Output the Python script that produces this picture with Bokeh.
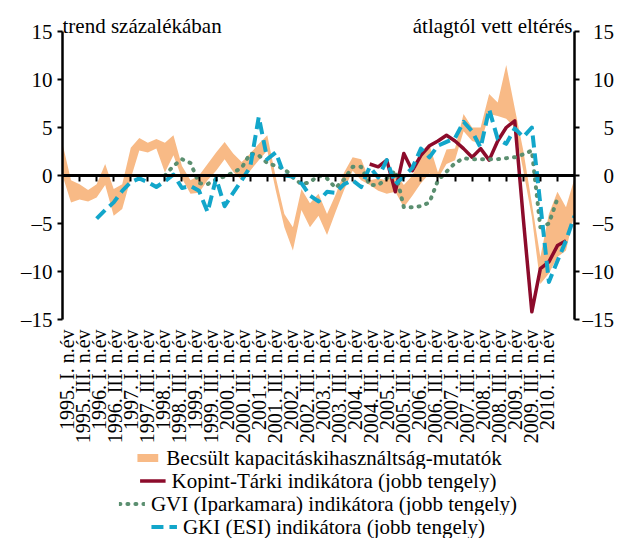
import math
import numpy as np
from bokeh.plotting import figure
from bokeh.layouts import column
from bokeh.models import Range1d, LinearAxis, FixedTicker, Legend, LegendItem, Label
from bokeh.embed import file_html
from bokeh.resources import INLINE

# ---- data (quarterly, 1995 Q1 .. 2010 Q1) ----
tick_labels = [
    "1995. I. n.év", "1995. III. n.év", "1996. I. n.év", "1996. III. n.év",
    "1997. I. n.év", "1997. III. n.év", "1998. I. n.év", "1998. III. n.év",
    "1999. I. n.év", "1999. III. n.év", "2000. I. n.év", "2000. III. n.év",
    "2001. I. n.év", "2001. III. n.év", "2002. I. n.év", "2002. III. n.év",
    "2003. I. n.év", "2003. III. n.év", "2004. I. n.év", "2004. III. n.év",
    "2005. I. n.év", "2005. III. n.év", "2006. I. n.év", "2006. III. n.év",
    "2007. I. n.év", "2007. III. n.év", "2008. I. n.év", "2008. III. n.év",
    "2009. I. n.év", "2009. III. n.év", "2010. I. n.év",
]

band_top = [3.3, -0.5, -0.9, -1.5, -0.9, 1.2, -1.4, -0.9, 2.9, 3.9,
            3.4, 3.8, 3.4, 4.2, 1.0, -0.5, 0.0, 1.2, 2.4, 3.5,
            2.3, 1.4, 2.3, 3.3, 4.2, -0.2, -4.0, -5.4, -1.4, -2.9,
            -1.9, -4.0, -2.0, 0.3, 1.9, 1.7, -0.5, -0.3, -0.5, 0.3,
            -1.0, 0.0, 2.0, 3.2, 0.3, 2.7, 2.8, 6.4, 5.0, 5.0,
            8.5, 7.6, 11.5, 7.0, 2.6, -2.9, -8.5, -4.0, -1.7, -3.3, -0.3]
band_bottom = [0.0, -2.8, -2.5, -2.7, -2.3, -1.0, -4.2, -3.5, -0.3, 2.6,
               2.4, 2.8, 0.3, 2.1, -0.3, -1.9, -1.8, -0.5, 0.5, 1.7,
               0.4, -0.5, 0.5, 1.6, 2.6, -1.6, -5.4, -7.8, -3.6, -5.4,
               -4.2, -6.2, -3.8, -1.5, 0.5, -0.5, -1.0, -1.6, -1.9, -1.7,
               -3.3, -2.1, -0.8, 0.2, -0.3, 1.2, 1.6, 4.6, 3.6, 3.3,
               6.4, 6.2, 5.9, 5.0, 0.5, -4.3, -11.3, -10.2, -8.5, -7.8, -4.0]

kopint_start = 36   # 2004 Q1
kopint = [1.2, 0.9, 1.6, -1.7, 2.3, 0.5, 2.1, 3.1, 3.6, 4.2,
          3.6, 2.8, 1.9, 2.8, 1.6, 3.6, 5.0, 5.7, -4.5, -14.2,
          -9.7, -9.0, -7.3, -6.8]

gvi_start = 12      # 1998 Q1
gvi = [0.0, 1.0, 1.7, 1.3, -0.8, -0.9, -0.4, -0.1, 0.3, 0.8,
       2.3, 2.1, 1.3, 1.0, 0.7, -0.2, -0.9, -0.7, 0.0, -0.3,
       -1.3, -0.4, 0.9, 0.9, -1.0, -1.0, -0.3, 0.5, -3.3, -3.3,
       -3.2, -2.8, -0.5, 0.4, 1.3, 1.8, 1.7, 1.7, 1.7, 1.7,
       1.8, 1.9, 2.2, 2.6, -5.4, -5.0, -2.4]

gki_start = 4       # 1996 Q1
gki = [-4.5, -3.6, -2.8, -1.6, -0.7, -0.3, -0.7, -1.2, -0.6, 0.1,
       -1.3, -1.1, -1.6, -3.8, -0.3, -3.2, -1.8, -0.5, 0.9, 6.1,
       1.7, 2.4, 0.0, -0.1, -0.8, -2.1, -2.7, -1.7, -1.8, -0.9,
       -0.5, -1.2, 0.9, -0.2, 1.6, -0.9, -0.1, 0.8, 2.8, 1.9,
       3.1, 3.5, 3.9, 5.6, 4.6, 2.9, 6.9, 3.8, 3.3, 4.9,
       4.0, 5.0, -3.0, -11.1, -8.9, -6.8, -4.2]

series_names = [
    "Becsült kapacitáskihasználtság-mutatók",
    "Kopint-Tárki indikátora (jobb tengely)",
    "GVI (Iparkamara) indikátora (jobb tengely)",
    "GKI (ESI) indikátora (jobb tengely)",
]
y_ticks = [-15, -10, -5, 0, 5, 10, 15]
left_title = "trend százalékában"
right_title = "átlagtól vett eltérés"

# ---- layout / styles ----
FONT = "Liberation Serif"
FS = "\u2007"
W = 617
BL, BR = 62, 42
PX = 9.6                    # pixels per unit on the value axes
TOP_PAD = 28                # room above the "15" tick for the captions (px)
Y0, Y1 = -15, 15
Y_TOP = Y1 + TOP_PAD / PX
FRAME_H = round((Y_TOP - Y0) * PX)
MB_TOP, MB_BOTTOM = 3, 127

BAND = dict(fill_color="#F8BA86", fill_alpha=1.0)
KOP = dict(line_color="#8C0B2B", line_width=3.5, line_join="round")
GVI = dict(line_color="#5B8F70", line_width=4, line_dash="1 7", line_cap="round",
           line_join="round")
GKI = dict(line_color="#12A6CA", line_width=4, line_dash="12 6", line_join="round")

x_band = np.arange(len(band_top))
x_kop = np.arange(kopint_start, kopint_start + len(kopint))
x_gvi = np.arange(gvi_start, gvi_start + len(gvi))
x_gki = np.arange(gki_start, gki_start + len(gki))

# ---- main chart ----
p = figure(width=W, height=MB_TOP + FRAME_H + MB_BOTTOM,
           x_range=Range1d(0, 60), y_range=Range1d(Y0, Y_TOP),
           x_axis_type=None, y_axis_type=None,
           output_backend="svg", toolbar_location=None,
           min_border_left=BL, min_border_right=BR,
           min_border_top=MB_TOP, min_border_bottom=MB_BOTTOM)
p.extra_y_ranges = {"right": Range1d(Y0, Y_TOP)}
p.extra_x_ranges = {"cat": Range1d(-0.5, 63.5)}
p.outline_line_color = None

p.varea(x=x_band, y1=band_bottom, y2=band_top, **BAND)
p.line(x=x_kop, y=kopint, y_range_name="right", **KOP)
p.line(x=x_gvi, y=gvi, y_range_name="right", **GVI)
p.line(x=x_gki, y=gki, y_range_name="right", **GKI)

def fmt(v):
    return ("–" + str(-v)) if v < 0 else str(v)

left_over = {v: fmt(v) for v in y_ticks}
right_pad = {15: 1, 10: 1, 5: 2, 0: 2, -5: 1, -10: 0, -15: 0}
right_over = {v: FS * right_pad[v] + fmt(v) for v in y_ticks}

common = dict(bounds=(Y0, Y1),
              axis_line_width=2.5, axis_line_color="black",
              major_tick_line_width=2, major_tick_line_color="black",
              major_tick_in=0, major_tick_out=5,
              minor_tick_line_color=None,
              major_label_text_font=FONT, major_label_text_font_size="21px",
              major_label_text_color="black")

left = LinearAxis(ticker=FixedTicker(ticks=y_ticks), major_label_overrides=left_over,
                  major_label_standoff=5, **common)
p.add_layout(left, "left")
right = LinearAxis(y_range_name="right", ticker=FixedTicker(ticks=y_ticks),
                   major_label_overrides=right_over, major_label_standoff=3, **common)
p.add_layout(right, "right")

zero_axis = LinearAxis(fixed_location=0, ticker=FixedTicker(ticks=list(range(2, 60, 2))),
                       axis_line_width=3, axis_line_color="black",
                       major_tick_in=6, major_tick_out=0, major_tick_line_width=2,
                       major_tick_line_color="black", minor_tick_line_color=None,
                       major_label_text_alpha=0, major_label_text_font_size="1px",
                       major_label_standoff=0)
p.add_layout(zero_axis, "above")

xlab = LinearAxis(x_range_name="cat", ticker=FixedTicker(ticks=list(range(0, 61, 2))),
                  major_label_overrides={2 * i: lab for i, lab in enumerate(tick_labels)},
                  major_label_orientation=math.pi / 2,
                  axis_line_color=None, major_tick_line_color=None,
                  minor_tick_line_color=None,
                  major_label_text_font=FONT, major_label_text_font_size="20px",
                  major_label_text_color="black", major_label_standoff=4)
p.add_layout(xlab, "below")

# axis captions, 6 px above the top tick
cap_y = Y1 + 6 / PX
p.add_layout(Label(x=0, y=cap_y, text=left_title, text_font=FONT, text_font_size="21px",
                   text_align="left", text_baseline="alphabetic", text_color="black"))
p.add_layout(Label(x=60, y=cap_y, text=right_title, text_font=FONT, text_font_size="21px",
                   text_align="right", text_baseline="alphabetic", x_offset=-2,
                   text_color="black"))

# ---- legend rows (each row centred, as in the reference) ----
rows = []
for name, kind, style, xs, ys in zip(
        series_names, ["band", "line", "line", "line"], [BAND, KOP, GVI, GKI],
        [x_band, x_kop, x_gvi, x_gki], [band_top, kopint, gvi, gki]):
    lf = figure(width=W, height=23, x_range=Range1d(0, 60), y_range=Range1d(100, 101),
                x_axis_type=None, y_axis_type=None,
                output_backend="svg", toolbar_location=None,
                min_border_left=BL, min_border_right=BR,
                min_border_top=0, min_border_bottom=0)
    lf.outline_line_color = None
    if kind == "band":
        r = lf.varea(x=xs, y1=band_bottom, y2=ys, **style)
    else:
        r = lf.line(x=xs, y=ys, **style)
    lg = Legend(items=[LegendItem(label=name, renderers=[r])],
                location="center", orientation="horizontal",
                border_line_color=None, background_fill_alpha=0,
                padding=0, margin=0, spacing=0,
                label_text_font=FONT, label_text_font_size="21px",
                label_text_color="black",
                glyph_width=26, glyph_height=10, label_standoff=6, label_height=20)
    lf.add_layout(lg, "center")
    rows.append(lf)

layout = column(p, *rows, spacing=0)
open("out.html", "w").write(file_html(layout, INLINE))
